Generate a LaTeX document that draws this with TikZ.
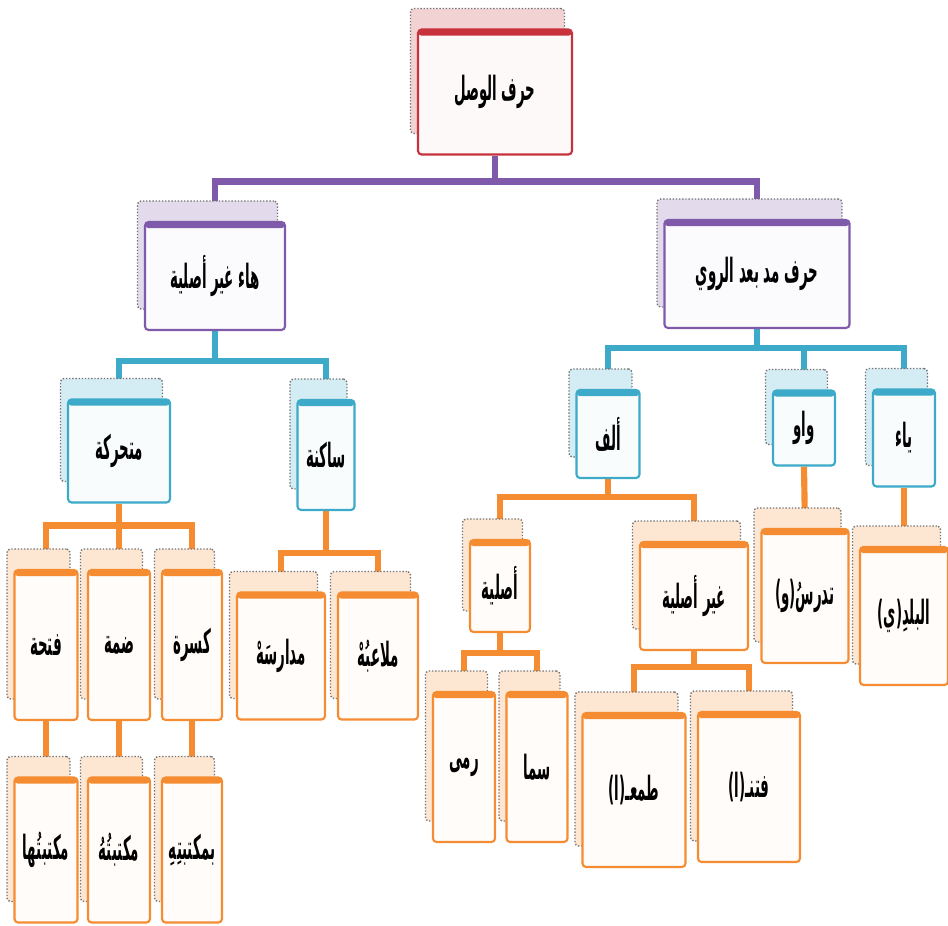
\documentclass[tikz,border=0pt]{standalone}
\usepackage{fontspec}
\newfontfamily\arabicfont[Script=Arabic,FakeStretch=0.4]{DejaVu Sans}
\TeXXeTstate=1
\usetikzlibrary{shadows,backgrounds}
\definecolor{rootred}{RGB}{200,50,60}
\definecolor{lilac}{RGB}{128,90,170}
\definecolor{sky}{RGB}{60,170,200}
\definecolor{peach}{RGB}{245,140,50}
\tikzset{
  card/.style={draw=#1, line width=1.2pt, rounded corners=2pt, fill=#1!3,
    inner sep=2pt, font=\arabicfont\bfseries\fontsize{19}{22}\selectfont,
    copy shadow={shadow xshift=-0.15cm, shadow yshift=0.42cm, fill=#1!22, draw=black!55, densely dotted, line width=0.8pt},
    path picture={\fill[#1] (path picture bounding box.north west) rectangle ([yshift=-3.5pt]path picture bounding box.north east);}},
  link/.style={draw=#1, line width=3.5pt}
}
\begin{document}
\begin{tikzpicture}[x=0.02cm, y=-0.02cm]
  \useasboundingbox (0,0) rectangle (948,926);
  % root and first level
  \node[card=rootred, minimum width=3.08cm, minimum height=2.5cm] (wasl) at (495,92) {\beginR حرف الوصل\endR};
  \node[card=lilac, minimum width=2.8cm, minimum height=2.16cm] (haa) at (215,276) {\beginR هاء غير أصلية\endR};
  \node[card=lilac, minimum width=3.7cm, minimum height=2.16cm] (madd) at (757,274) {\beginR حرف مد بعد الروي\endR};
  % second level
  \node[card=sky, minimum width=2.04cm, minimum height=2.06cm] (mutaharrika) at (119,451) {\beginR متحركة\endR};
  \node[card=sky, minimum width=1.14cm, minimum height=2.2cm] (sakina) at (326,455) {\beginR ساكنة\endR};
  \node[card=sky, minimum width=1.26cm, minimum height=1.76cm] (alif) at (608,434) {\beginR ألف\endR};
  \node[card=sky, minimum width=1.24cm, minimum height=1.5cm] (waw) at (804,428) {\beginR واو\endR};
  \node[card=sky, minimum width=1.24cm, minimum height=1.94cm] (yaa) at (904,438) {\beginR ياء\endR};
  % third level
  \node[card=peach, minimum width=1.26cm, minimum height=3cm] (fatha) at (46,645) {\beginR فتحة\endR};
  \node[card=peach, minimum width=1.24cm, minimum height=3cm] (damma) at (119,645) {\beginR ضمة\endR};
  \node[card=peach, minimum width=1.2cm, minimum height=3cm] (kasra) at (192,645) {\beginR كسرة\endR};
  \node[card=peach, minimum width=1.76cm, minimum height=2.54cm] (madaris) at (281,656) {\beginR مدارسَهْ\endR};
  \node[card=peach, minimum width=1.6cm, minimum height=2.54cm] (malaib) at (378,656) {\beginR ملاعبُهْ\endR};
  \node[card=peach, minimum width=1.2cm, minimum height=1.84cm] (asliya) at (500,586) {\beginR أصلية\endR};
  \node[card=peach, minimum width=2.16cm, minimum height=2.16cm] (ghayr) at (694,596) {\beginR غير أصلية\endR};
  \node[card=peach, minimum width=1.74cm, minimum height=2.68cm] (tadrus) at (805,596) {\beginR تدرسُ(و)\endR};
  \node[card=peach, minimum width=1.76cm, minimum height=2.76cm] (balad) at (904,616) {\beginR البلدِ(ي)\endR};
  % last level
  \node[card=peach, minimum width=1.26cm, minimum height=2.9cm] (ex1) at (46,850) {\beginR مكتبتُها\endR};
  \node[card=peach, minimum width=1.24cm, minimum height=2.9cm] (ex2) at (119,850) {\beginR مكتبتُهُ\endR};
  \node[card=peach, minimum width=1.2cm, minimum height=2.9cm] (ex3) at (192,850) {\beginR بمكتبتِهِ\endR};
  \node[card=peach, minimum width=1.24cm, minimum height=3cm] (rama) at (464,767) {\beginR رمى\endR};
  \node[card=peach, minimum width=1.22cm, minimum height=3cm] (sama) at (537,767) {\beginR سما\endR};
  \node[card=peach, minimum width=2.06cm, minimum height=3.08cm] (tamaa) at (634,790) {\beginR طمعـ(ا)\endR};
  \node[card=peach, minimum width=2.04cm, minimum height=3cm] (fatana) at (749,787) {\beginR فتنـ(ا)\endR};
  % connectors
  \begin{scope}[on background layer]
    \draw[link=lilac] (wasl.south) -- ++(0,26) -| (haa.north);
    \draw[link=lilac] (wasl.south) -- ++(0,26) -| (madd.north);
    \draw[link=sky] (haa.south) -- ++(0,30) -| (mutaharrika.north);
    \draw[link=sky] (haa.south) -- ++(0,30) -| (sakina.north);
    \draw[link=sky] (madd.south) -- ++(0,19) -| (alif.north);
    \draw[link=sky] (madd.south) -- ++(0,19) -| (waw.north);
    \draw[link=sky] (madd.south) -- ++(0,19) -| (yaa.north);
    \draw[link=peach] (mutaharrika.south) -- ++(0,22) -| (fatha.north);
    \draw[link=peach] (mutaharrika.south) -- ++(0,22) -| (damma.north);
    \draw[link=peach] (mutaharrika.south) -- ++(0,22) -| (kasra.north);
    \draw[link=peach] (sakina.south) -- ++(0,42) -| (madaris.north);
    \draw[link=peach] (sakina.south) -- ++(0,42) -| (malaib.north);
    \draw[link=peach] (alif.south) -- ++(0,18) -| (asliya.north);
    \draw[link=peach] (alif.south) -- ++(0,18) -| (ghayr.north);
    \draw[link=peach] (waw.south) -- (tadrus.north);
    \draw[link=peach] (yaa.south) -- (balad.north);
    \draw[link=peach] (asliya.south) -- ++(0,20) -| (rama.north);
    \draw[link=peach] (asliya.south) -- ++(0,20) -| (sama.north);
    \draw[link=peach] (ghayr.south) -- ++(0,16) -| (tamaa.north);
    \draw[link=peach] (ghayr.south) -- ++(0,16) -| (fatana.north);
    \draw[link=peach] (fatha.south) -- (ex1.north);
    \draw[link=peach] (damma.south) -- (ex2.north);
    \draw[link=peach] (kasra.south) -- (ex3.north);
  \end{scope}
\end{tikzpicture}
\end{document}
